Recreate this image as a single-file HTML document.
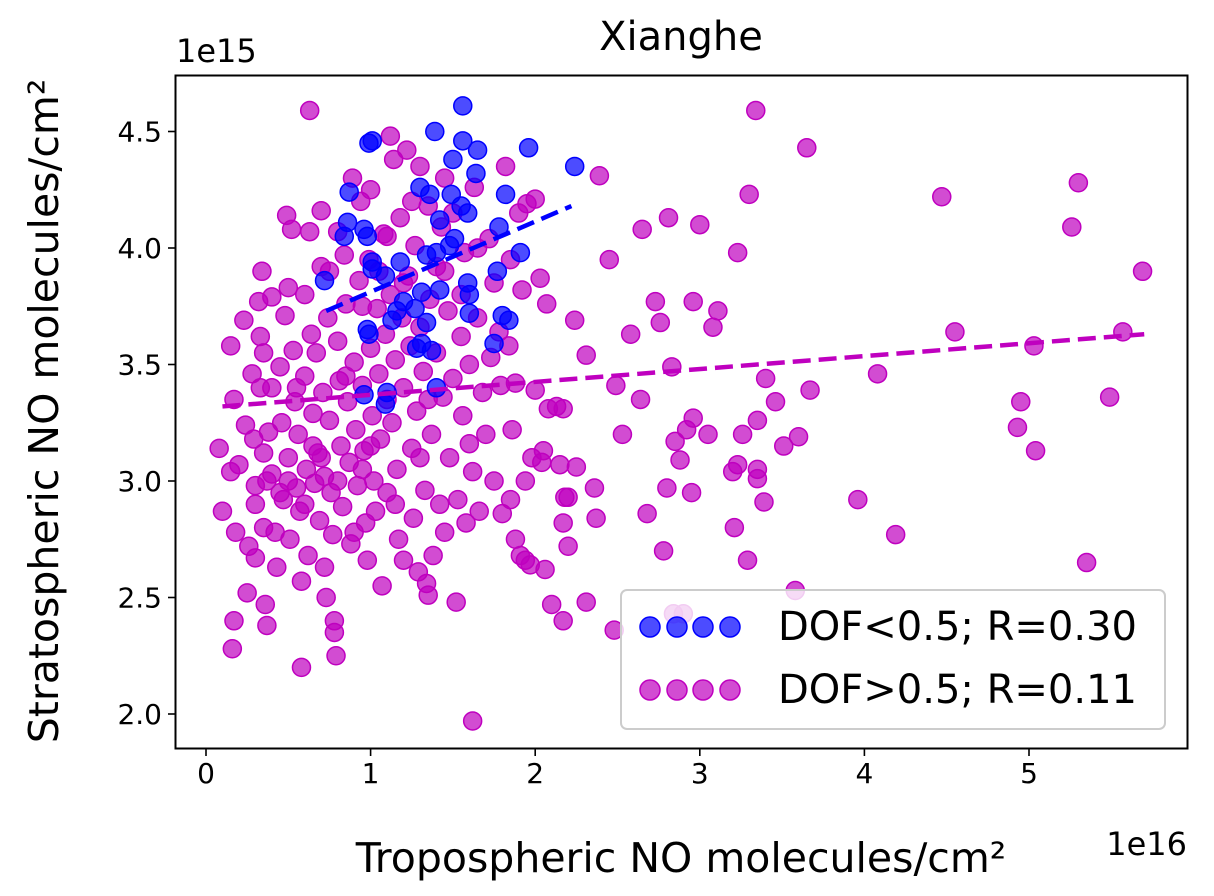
<!DOCTYPE html>
<html><head><meta charset="utf-8"><style>
body{margin:0;background:#fff;}
svg{display:block;font-family:"DejaVu Sans","Liberation Sans",sans-serif;}
</style></head><body>
<svg id="chart" width="1214" height="896" viewBox="0 0 1214 896">
<text x="681" y="50" style="font-size:40px" text-anchor="middle">Xianghe</text>
<text x="176" y="62" style="font-size:32px">1e15</text>
<text x="1187" y="855" style="font-size:32px" text-anchor="end">1e16</text>
<g id="xticks"></g>
<g id="yticks"></g>
<g id="points"></g>
<g id="fits"></g>
<rect x="175.5" y="75.5" width="1012" height="673" fill="none" stroke="#000" stroke-width="2"/>
<text x="681" y="872" style="font-size:41px" text-anchor="middle">Tropospheric NO molecules/cm²</text>
<text transform="translate(58,411) rotate(-90)" style="font-size:41px" text-anchor="middle">Stratospheric NO molecules/cm²</text>
<g>
<rect x="621" y="590" width="544" height="139" rx="6" fill="#fff" fill-opacity="0.8" stroke="#ccc" stroke-width="2"/>
<g id="legdots"></g>
<text x="778" y="640" style="font-size:40px">DOF&lt;0.5; R=0.30</text>
<text x="778" y="703" style="font-size:40px">DOF&gt;0.5; R=0.11</text>
</g>
</svg>
<script>
const xTicks=[0,1,2,3,4,5];
const yTicks=[2.0,2.5,3.0,3.5,4.0,4.5];
const blueX=[1.56,1.39,1.01,0.99,1.56,1.50,1.65,1.96,2.24,1.64,1.30,0.87,1.36,1.49,1.82,1.55,1.59,0.86,1.42,0.96,0.84,0.98,1.78,1.51,1.48,1.40,1.91,1.34,1.01,1.18,1.01,1.09,0.72,1.77,1.59,1.60,1.42,1.31,1.20,1.27,1.16,1.60,1.80,1.84,1.13,1.34,0.98,0.99,1.75,1.28,1.37,1.31,1.10,0.96,1.40,1.09];
const blueY=[4.61,4.50,4.46,4.45,4.46,4.38,4.42,4.43,4.35,4.32,4.26,4.24,4.23,4.23,4.23,4.18,4.15,4.11,4.12,4.08,4.05,4.05,4.09,4.04,4.01,3.98,3.98,3.97,3.94,3.94,3.91,3.88,3.86,3.90,3.85,3.80,3.82,3.81,3.77,3.74,3.73,3.72,3.71,3.69,3.69,3.68,3.65,3.63,3.59,3.57,3.56,3.59,3.38,3.37,3.40,3.33];
const magX=[0.63,3.34,3.65,4.47,5.30,5.26,5.69,4.55,5.03,5.57,5.49,4.95,4.08,4.93,5.04,3.96,4.19,5.35,3.58,3.30,2.81,3.00,3.23,2.65,2.39,2.45,2.73,2.96,3.11,3.08,2.76,2.24,2.07,2.31,2.58,2.83,2.64,2.49,3.40,3.46,3.35,3.26,3.05,2.96,2.92,2.85,2.88,3.23,3.35,3.35,3.39,3.20,2.95,2.80,2.68,3.21,2.78,3.29,2.53,2.36,2.37,2.31,2.15,2.25,2.18,2.20,2.17,2.20,2.17,2.10,2.06,1.98,1.94,2.04,1.91,1.88,1.85,2.13,2.17,2.08,2.00,1.88,1.79,3.67,3.51,3.60,2.48,2.84,2.90,
0.08,0.1,0.15,0.17,0.15,0.18,0.17,0.16,0.2,0.23,0.24,0.25,0.26,0.28,0.29,0.3,0.3,0.3,0.32,0.33,0.34,0.33,0.35,0.35,0.35,0.36,0.37,0.37,0.38,0.4,0.4,0.42,0.43,0.45,0.46,0.47,0.48,0.49,0.5,0.5,0.51,0.52,0.53,0.54,0.55,0.56,0.57,0.58,0.58,0.6,0.6,0.61,0.62,0.63,0.64,0.65,0.66,0.67,0.68,0.69,0.7,0.7,0.71,0.72,0.72,0.73,0.74,0.75,0.76,0.77,0.78,0.78,0.79,0.8,0.8,0.81,0.82,0.83,0.84,0.85,0.86,0.87,0.88,0.89,0.9,0.91,0.92,0.93,0.94,0.95,0.96,0.97,0.98,0.99,1.0,1.0,1.01,1.02,1.03,1.04,1.05,1.06,1.07,1.08,1.09,1.1,1.1,1.12,1.12,1.13,1.14,1.15,1.16,1.17,1.18,1.19,1.2,1.2,1.22,1.23,1.24,1.25,1.26,1.27,1.28,1.29,1.3,1.3,1.32,1.33,1.34,1.35,1.35,1.36,1.37,1.38,1.4,1.4,1.42,1.43,1.44,1.45,1.47,1.48,1.5,1.5,1.52,1.53,1.55,1.56,1.57,1.58,1.6,1.6,1.62,1.62,1.63,1.65,1.66,1.68,1.7,1.72,1.73,1.75,1.78,1.8,1.82,1.84,1.86,1.9,1.92,1.95,2.0,2.03,2.05,1.94,1.97,1.3,0.95,1.15,0.65,0.45,0.55,0.85,1.05,1.25,1.45,0.75,0.95,1.1,1.2,0.6,0.7,0.9,1.0,0.8,0.5,0.4,1.35,1.55,1.65,1.45,1.75,1.85];
const magY=[4.59,4.59,4.43,4.22,4.28,4.09,3.90,3.64,3.58,3.64,3.36,3.34,3.46,3.23,3.13,2.92,2.77,2.65,2.53,4.23,4.13,4.10,3.98,4.08,4.31,3.95,3.77,3.77,3.73,3.66,3.68,3.69,3.76,3.54,3.63,3.49,3.35,3.41,3.44,3.34,3.26,3.20,3.20,3.27,3.22,3.17,3.09,3.07,3.05,3.01,2.91,3.04,2.95,2.97,2.86,2.80,2.70,2.66,3.20,2.97,2.84,2.48,3.07,3.06,2.93,2.93,2.82,2.72,2.40,2.47,2.62,3.10,3.00,3.08,2.68,2.75,2.92,3.32,3.31,3.31,3.39,3.42,3.41,3.39,3.15,3.19,2.36,2.43,2.43,
3.14,2.87,3.58,3.35,3.04,2.78,2.40,2.28,3.07,3.69,3.24,2.52,2.72,3.46,3.18,2.98,2.90,2.67,3.77,3.62,3.90,3.40,3.55,3.12,2.80,2.47,2.38,3.00,3.21,3.79,3.03,2.78,2.63,3.49,3.25,2.92,3.71,4.14,3.83,3.10,2.75,4.08,3.56,3.34,2.97,3.20,2.87,2.57,2.20,3.80,3.45,3.05,2.68,4.07,3.63,3.29,2.99,3.55,3.12,2.83,4.16,3.92,3.38,3.02,2.63,2.50,3.70,3.26,2.95,2.77,2.40,2.35,2.25,4.07,3.60,3.43,3.15,2.89,3.97,3.76,3.34,3.08,2.73,4.30,3.51,3.22,2.98,3.86,4.20,3.41,3.13,2.82,2.66,3.95,4.25,3.57,3.28,3.00,2.87,3.74,3.46,3.18,2.55,4.06,3.63,3.35,2.95,4.48,3.80,3.25,4.38,3.52,3.05,2.75,4.13,3.70,3.40,2.66,4.42,3.88,3.58,3.14,2.84,4.01,3.30,2.61,4.35,3.66,3.47,2.96,2.56,2.51,4.18,3.78,3.20,2.68,3.92,3.55,2.90,4.09,3.36,2.78,3.73,3.10,4.15,3.44,2.48,2.92,3.62,3.28,3.98,2.82,3.50,3.16,1.97,3.04,4.26,3.70,2.87,3.38,3.20,4.04,3.53,3.00,3.64,2.86,4.35,3.58,3.22,4.15,3.82,4.19,4.21,3.87,3.13,2.66,2.64,3.10,3.05,2.90,3.15,2.95,3.40,3.45,3.90,4.20,4.30,3.90,3.75,4.05,3.85,2.90,3.10,2.78,3.15,3.00,3.00,3.40,3.35,3.80,4.00,3.90,3.85,3.95];
const blueFitX=[0.73,2.22], blueFitY=[3.73,4.18];
const magFitX=[0.10,5.70], magFitY=[3.32,3.63];

const NS='http://www.w3.org/2000/svg';
const sx=v=>206+v*164.6;
const sy=v=>714-(v-2.0)*233;
function mk(tag,attrs,parent){const e=document.createElementNS(NS,tag);for(const k in attrs)e.setAttribute(k,attrs[k]);parent.appendChild(e);return e;}
const xt=document.getElementById('xticks'), yt=document.getElementById('yticks');
xTicks.forEach(v=>{
  const l=mk('line',{x1:sx(v),x2:sx(v),y1:749,y2:756,stroke:'#000','stroke-width':1.6},xt);
  
  
  const t=mk('text',{x:sx(v),y:783,style:'font-size:28px','text-anchor':'middle'},xt);
  t.textContent=String(v);
  
  
});
yTicks.forEach(v=>{
  const l=mk('line',{x1:168,x2:175,y1:sy(v),y2:sy(v),stroke:'#000','stroke-width':1.6},yt);
  
  
  const t=mk('text',{x:162,y:sy(v)+10,style:'font-size:28px','text-anchor':'end'},yt);
  t.textContent=v.toFixed(1);
  
  
});
const pg=document.getElementById('points');
magX.forEach((v,i)=>{
  const c=mk('circle',{cx:sx(v),cy:sy(magY[i]),r:9,fill:'#bf00bf','fill-opacity':0.7,stroke:'#bf00bf','stroke-opacity':1,'stroke-width':1.5},pg);
  
  
});
blueX.forEach((v,i)=>{
  const c=mk('circle',{cx:sx(v),cy:sy(blueY[i]),r:9,fill:'#0000ff','fill-opacity':0.7,stroke:'#0000ff','stroke-opacity':1,'stroke-width':1.5},pg);
  
  
});
const fg=document.getElementById('fits');
const bl=mk('line',{x1:sx(blueFitX[0]),y1:sy(blueFitY[0]),x2:sx(blueFitX[1]),y2:sy(blueFitY[1]),stroke:'#0000ff','stroke-width':4.5,'stroke-dasharray':'18,8'},fg);


const ml=mk('line',{x1:sx(magFitX[0]),y1:sy(magFitY[0]),x2:sx(magFitX[1]),y2:sy(magFitY[1]),stroke:'#bf00bf','stroke-width':4.5,'stroke-dasharray':'18,8'},fg);


const lg=document.getElementById('legdots');
[650,677,703,730].forEach(x=>{
  const a=mk('circle',{cx:x,cy:627,r:10,fill:'#0000ff','fill-opacity':0.7,stroke:'#0000ff','stroke-width':1.5},lg);
  
  
  const b=mk('circle',{cx:x,cy:690,r:10,fill:'#bf00bf','fill-opacity':0.7,stroke:'#bf00bf','stroke-width':1.5},lg);
  
  
});
</script>
</body></html>
